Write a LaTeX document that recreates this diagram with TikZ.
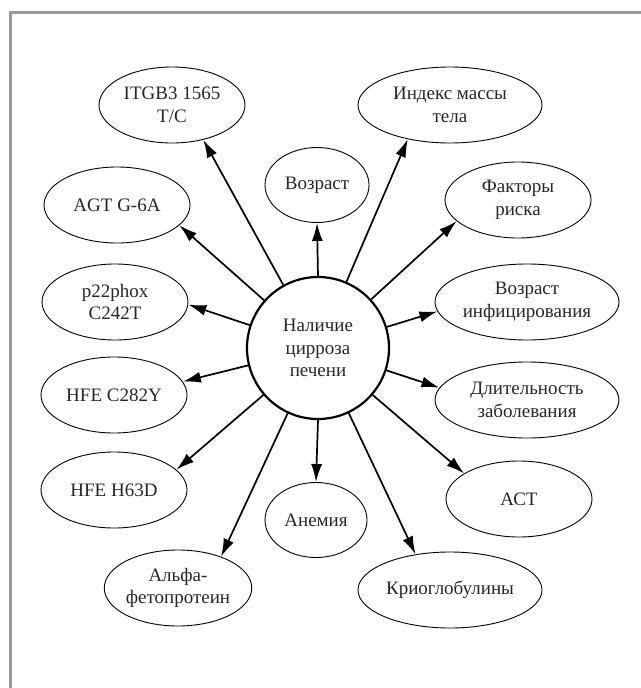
\documentclass[tikz,border=0pt]{standalone}
\usepackage{fontspec}
\setmainfont{Liberation Serif}
\usetikzlibrary{shapes.geometric,arrows.meta}
\begin{document}
\begin{tikzpicture}[x=1pt,y=-1pt,
  every node/.style={font=\fontsize{19}{22.5}\selectfont, align=center, text=black!85},
  oval/.style={draw, ellipse, line width=0.9pt, inner sep=0pt, minimum height=76pt},
  narrow/.style={oval, minimum width=146pt},
  wide/.style={oval, minimum width=184pt},
  hub/.style={draw, circle, line width=2.2pt, inner sep=0pt, minimum size=142pt},
  arr/.style={line width=1.7pt, -{Latex[length=18pt,width=11pt]}},
  frame/.style={draw=black!40, line width=2.5pt}]
\useasboundingbox (0,0) rectangle (640,688);
\draw[frame] (10.5,700) -- (10.5,12.5) -- (660,12.5);

\node[hub] (c) at (318,348) {Наличие\\цирроза\\печени};

\node[narrow] (itgb) at (172,105) {ITGB3 1565\\T/C};
\node[narrow] (agt) at (117,205) {AGT G-6A};
\node[narrow] (p22) at (115,302) {p22phox\\C242T};
\node[narrow] (c282) at (114,395) {HFE C282Y};
\node[narrow] (h63) at (114,490) {HFE H63D};
\node[narrow] (afp) at (178,588) {Альфа-\\фетопротеин};
\node[oval, minimum width=104pt, minimum height=75pt] (age) at (317,185) {Возраст};
\node[oval, minimum width=102pt, minimum height=75pt] (anem) at (316,520) {Анемия};
\node[wide] (bmi) at (450,105) {Индекс массы\\тела};
\node[narrow] (risk) at (518,200) {Факторы\\риска};
\node[wide] (inf) at (527,302) {Возраст\\инфицирования};
\node[wide] (dur) at (527,400) {Длительность\\заболевания};
\node[narrow] (ast) at (519,499) {АСТ};
\node[wide] (cryo) at (450,590) {Криоглобулины};

\draw[arr] (c) -- (itgb.-48);
\draw[arr] (c) -- (agt.-18);
\draw[arr] (c) -- (p22.-2);
\draw[arr] (c) -- (c282.11);
\draw[arr] (c) -- (h63.18);
\draw[arr] (c) -- (afp.36);
\draw[arr] (c.north) -- (age.south);
\draw[arr] (c.south) -- (anem.north);
\draw[arr] (c) -- (bmi.-141);
\draw[arr] (c) -- (risk.199);
\draw[arr] (c) -- (inf.186);
\draw[arr] (c) -- (dur.172);
\draw[arr] (c) -- (ast.155);
\draw[arr] (c) -- (cryo.134);
\end{tikzpicture}
\end{document}
